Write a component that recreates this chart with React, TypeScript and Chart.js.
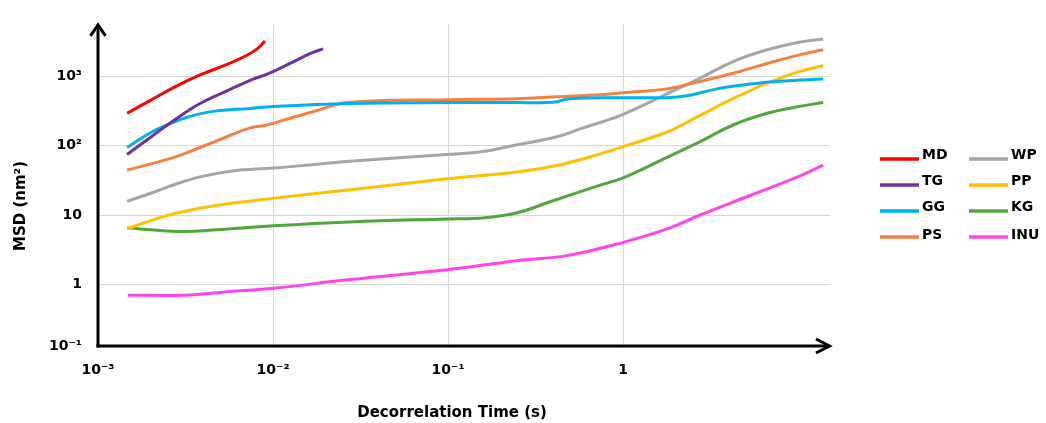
import React, { useEffect, useRef } from "react";
import { Chart, registerables } from "chart.js";

Chart.register(...registerables);

// ---- data ----
const seriesNames = ["MD", "TG", "GG", "PS", "WP", "PP", "KG", "INU"];
const seriesColors = ["#ff0000", "#7030a0", "#00b0f0", "#f4813f", "#a6a6a6", "#ffc000", "#4ea93b", "#ff44ea"];

const mdX = [0.001466, 0.001982, 0.002825, 0.003828, 0.005458, 0.007096, 0.00811, 0.008995];
const mdY = [292, 445, 723, 1040, 1476, 2000, 2477, 3214];

const tgX = [0.001466, 0.001982, 0.002825, 0.003828, 0.005458, 0.007691, 0.009247, 0.0125, 0.01626, 0.01932];
const tgY = [74.6, 130, 248, 404, 615, 908, 1067, 1524, 2109, 2477];

const ggX = [0.001466, 0.001982, 0.002477, 0.003228, 0.004539, 0.007396, 0.01, 0.02754, 0.09863, 0.2477, 0.3981, 0.4977, 1, 1.782, 2.32, 3.443, 5.32, 8.2, 13.9];
const ggY = [93.8, 152, 198, 256, 311, 343, 366, 404, 417, 417, 420, 474, 490, 490, 523, 656, 771, 851, 908];

const psX = [0.001466, 0.001982, 0.002825, 0.003828, 0.005458, 0.007396, 0.009247, 0.0125, 0.01782, 0.02649, 0.09863, 0.2477, 0.4198, 0.739, 1, 1.782, 2.512, 4.25, 6.65, 10.27, 13.9];
const psY = [44.5, 54, 70, 93.8, 134, 180, 198, 248, 321, 417, 459, 474, 506, 540, 576, 656, 796, 1102, 1524, 2042, 2399];

const wpX = [0.001466, 0.001982, 0.002825, 0.003828, 0.005902, 0.01, 0.01782, 0.02754, 0.09863, 0.1585, 0.2477, 0.4198, 0.5902, 0.739, 1, 1.782, 2.754, 4.25, 6.65, 10.27, 13.9];
const wpY = [15.7, 20.4, 28.2, 35.4, 43.1, 47.4, 54, 59.6, 74.6, 82.2, 103, 134, 180, 215, 282, 557, 937, 1626, 2399, 3111, 3428];

const ppX = [0.001466, 0.001982, 0.002825, 0.004786, 0.00877, 0.02754, 0.09863, 0.2477, 0.4539, 0.739, 1, 1.782, 2.754, 4.25, 6.65, 10.27, 13.9];
const ppY = [6.35, 8.22, 10.67, 13.8, 16.79, 23.2, 33.2, 41.7, 54, 76, 96.8, 157, 273, 474, 796, 1175, 1429];

const kgX = [0.001466, 0.001982, 0.003062, 0.004786, 0.01, 0.02754, 0.09863, 0.1585, 0.2477, 0.3828, 0.739, 1, 1.782, 2.754, 4.25, 6.65, 10.27, 13.9];
const kgY = [6.56, 6.15, 5.77, 6.15, 7.0, 7.96, 8.79, 9.08, 10.8, 15.5, 27, 34.3, 67.8, 114, 198, 292, 368, 417];

const inuX = [0.001483, 0.003062, 0.005902, 0.01, 0.02754, 0.09863, 0.2477, 0.4786, 1, 1.782, 2.754, 5.32, 10.27, 13.9];
const inuY = [0.70, 0.70, 0.796, 0.879, 1.175, 1.626, 2.2, 2.6, 4.04, 6.3, 10.0, 19.1, 36.6, 52.3];

const seriesX = [mdX, tgX, ggX, psX, wpX, ppX, kgX, inuX];
const seriesY = [mdY, tgY, ggY, psY, wpY, ppY, kgY, inuY];

const X_MIN = 0.001;
const X_MAX = 15.2;
const Y_MIN = 0.1297;
const Y_MAX = 5570;

const xTickValues = [0.001, 0.01, 0.1, 1];
const xTickLabels = ["10⁻³", "10⁻²", "10⁻¹", "1"];
const yTickValues = [Y_MIN, 1, 10, 100, 1000];
const yTickLabels = ["10⁻¹", "1", "10", "10²", "10³"];

const xTitle = "Decorrelation Time (s)";
const yTitle = "MSD (nm²)";

const FONT = '"DejaVu Sans", Verdana, sans-serif';

const decorPlugin = {
  id: "decor",
  afterDraw(chart: any) {
    const { ctx, chartArea } = chart;
    const { left, right, top, bottom } = chartArea;
    ctx.save();
    ctx.strokeStyle = "#000";
    ctx.lineWidth = 3;
    ctx.lineJoin = "miter";
    // y axis
    ctx.beginPath();
    ctx.moveTo(left, bottom + 1.5);
    ctx.lineTo(left, top + 1);
    ctx.stroke();
    ctx.beginPath();
    ctx.moveTo(left - 7.5, top + 11.5);
    ctx.lineTo(left, top + 0.5);
    ctx.lineTo(left + 7.5, top + 11.5);
    ctx.stroke();
    // x axis
    ctx.beginPath();
    ctx.moveTo(left - 1.5, bottom);
    ctx.lineTo(right - 1, bottom);
    ctx.stroke();
    ctx.beginPath();
    ctx.moveTo(right - 14, bottom - 7);
    ctx.lineTo(right - 0.5, bottom);
    ctx.lineTo(right - 14, bottom + 7);
    ctx.stroke();

    // axis titles
    ctx.fillStyle = "#000";
    ctx.font = `bold 15px ${FONT}`;
    ctx.textAlign = "center";
    ctx.textBaseline = "middle";
    ctx.fillText(xTitle, 452, 413);
    ctx.save();
    ctx.translate(21.5, 206);
    ctx.rotate(-Math.PI / 2);
    ctx.fillText(yTitle, 0, 0);
    ctx.restore();

    // legend (2 columns x 4 rows)
    ctx.font = `bold 14px ${FONT}`;
    ctx.textAlign = "left";
    ctx.lineWidth = 3.5;
    ctx.lineCap = "butt";
    seriesNames.forEach((name, i) => {
      const col = Math.floor(i / 4);
      const row = i % 4;
      const lx = col === 0 ? 880 : 969;
      const ly = 159 + row * 26;
      ctx.strokeStyle = seriesColors[i];
      ctx.beginPath();
      ctx.moveTo(lx, ly);
      ctx.lineTo(lx + 39, ly);
      ctx.stroke();
      ctx.fillStyle = "#000";
      const tx = col === 0 ? 922 : 1011;
      const ty = row === 3 ? ly - 1.5 : ly - 3.5;
      ctx.fillText(name, tx, ty);
    });
    ctx.restore();
  },
};

export default function App() {
  const canvasRef = useRef<HTMLCanvasElement | null>(null);

  useEffect(() => {
    const canvas = canvasRef.current;
    if (!canvas) return;
    const datasets = seriesNames.map((name, i) => ({
      label: name,
      data: seriesX[i].map((x, j) => ({ x, y: seriesY[i][j] })),
      borderColor: seriesColors[i],
      backgroundColor: seriesColors[i],
      borderWidth: 3,
      pointRadius: 0,
      pointHoverRadius: 0,
      fill: false,
      tension: 0.4,
    }));

    const chart = new Chart(canvas, {
      type: "line",
      data: { datasets },
      options: {
        animation: false,
        responsive: false,
        devicePixelRatio: 1,
        parsing: false as any,
        normalized: true,
        layout: { padding: { left: 0, top: 17, right: 216, bottom: 0 } },
        plugins: {
          legend: { display: false },
          tooltip: { enabled: false },
          title: { display: false },
        },
        scales: {
          x: {
            type: "logarithmic",
            min: X_MIN,
            max: X_MAX,
            afterBuildTicks: (s: any) => {
              s.ticks = xTickValues.map((v) => ({ value: v }));
            },
            afterFit: (s: any) => {
              s.height = 77;
            },
            ticks: {
              autoSkip: false,
              maxRotation: 0,
              padding: 16,
              color: "#000",
              font: { family: FONT, size: 14, weight: "bold" },
              callback: (_v: any, idx: number) => xTickLabels[idx],
            },
            grid: { color: "#d6d6d6", lineWidth: 1, drawTicks: false },
            border: { display: false },
          },
          y: {
            type: "logarithmic",
            min: Y_MIN,
            max: Y_MAX,
            afterBuildTicks: (s: any) => {
              s.ticks = yTickValues.map((v) => ({ value: v }));
            },
            afterFit: (s: any) => {
              s.width = 98;
            },
            ticks: {
              autoSkip: false,
              padding: 16,
              color: "#000",
              font: { family: FONT, size: 14, weight: "bold" },
              callback: (_v: any, idx: number) => yTickLabels[idx],
            },
            grid: { color: "#d6d6d6", lineWidth: 1, drawTicks: false },
            border: { display: false },
          },
        },
      },
      plugins: [decorPlugin],
    } as any);

    return () => chart.destroy();
  }, []);

  return (
    <div style={{ position: "fixed", left: 0, top: 0, width: 1046, height: 423, background: "#fff" }}>
      <canvas ref={canvasRef} width={1046} height={423} style={{ display: "block" }} />
    </div>
  );
}
